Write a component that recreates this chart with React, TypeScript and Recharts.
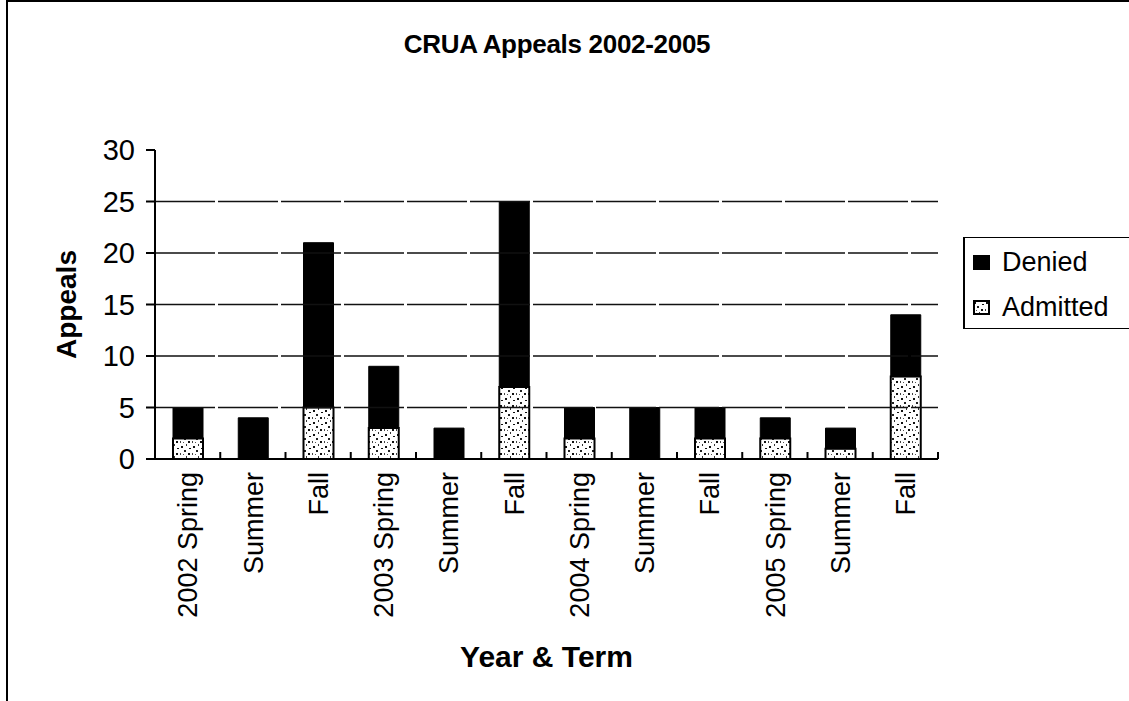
import React from 'react';
import { BarChart, Bar, XAxis, YAxis, ReferenceLine, Legend } from 'recharts';

const terms = [
  '2002 Spring', 'Summer', 'Fall',
  '2003 Spring', 'Summer', 'Fall',
  '2004 Spring', 'Summer', 'Fall',
  '2005 Spring', 'Summer', 'Fall',
];
const admitted = [2, 0, 5, 3, 0, 7, 2, 0, 2, 2, 1, 8];
const denied = [3, 4, 16, 6, 3, 18, 3, 5, 3, 2, 2, 6];
const yTicks = [0, 5, 10, 15, 20, 25, 30];
const gridValues = [5, 10, 15, 20, 25];
const dividerTicks = terms.map((_, i) => i + 1);

const data = terms.map((term, i) => ({
  key: `${term}-${i}`,
  term,
  pos: i + 0.5,
  Admitted: admitted[i],
  Denied: denied[i],
}));

const FONT = '"Liberation Sans", Arial, Helvetica, sans-serif';

// rotated category label
const CategoryTick = (props: any) => {
  const { x, y, payload } = props;
  const label = terms[payload.index] ?? payload.value;
  return (
    <text
      transform={`translate(${x},${y + 13}) rotate(-90)`}
      textAnchor="end"
      dy="0.36em"
      fontSize={27}
      fontFamily={FONT}
      fill="#000"
    >
      {label}
    </text>
  );
};

// short upward mark at each category boundary
const DividerTick = (props: any) => {
  const { x, y } = props;
  return <line x1={x} x2={x} y1={y} y2={y - 7} stroke="#000" strokeWidth={2} />;
};

const Marker = ({ fill }: { fill: string }) => (
  <svg width={17} height={15} style={{ marginRight: 12, flexShrink: 0 }}>
    <rect x={1} y={1} width={15} height={13} fill={fill} stroke="#000" strokeWidth={2} />
  </svg>
);

const LegendBox = () => (
  <div
    style={{
      width: '100%',
      height: '100%',
      boxSizing: 'border-box',
      borderLeft: '2px solid #000',
      borderTop: '1px solid #000',
      borderBottom: '1px solid #000',
      paddingLeft: 8,
      fontFamily: FONT,
      fontSize: 27,
      color: '#000',
    }}
  >
    <div style={{ display: 'flex', alignItems: 'center', height: 31, marginTop: 9 }}>
      <Marker fill="#000" />
      <span>Denied</span>
    </div>
    <div style={{ display: 'flex', alignItems: 'center', height: 31, marginTop: 14 }}>
      <Marker fill="url(#speckle)" />
      <span>Admitted</span>
    </div>
  </div>
);

export default function App() {
  return (
    <div
      style={{
        position: 'fixed',
        left: 0,
        top: 0,
        width: 1129,
        height: 701,
        overflow: 'hidden',
        background: '#fff',
        fontFamily: FONT,
      }}
    >
      <div
        style={{
          position: 'absolute',
          left: 6,
          top: 0,
          width: 1200,
          height: 800,
          borderLeft: '2px solid #000',
          borderTop: '2px solid #000',
        }}
      />
      <div
        style={{
          position: 'absolute',
          left: 0,
          top: 31,
          width: 1114,
          textAlign: 'center',
          fontSize: 26,
          lineHeight: '26px',
          fontWeight: 'bold',
          letterSpacing: -0.3,
          color: '#000',
        }}
      >
        CRUA Appeals 2002-2005
      </div>
      <div style={{ position: 'absolute', left: 0, top: 0 }}>
        <BarChart
          width={1129}
          height={701}
          data={data}
          margin={{ top: 150, right: 191, bottom: 32, left: 0 }}
          barSize={30}
        >
          <defs>
            <pattern id="speckle" width={12} height={12} patternUnits="userSpaceOnUse">
              <rect width={12} height={12} fill="#fff" />
              <rect x={1} y={2} width={2} height={2} fill="#111" />
              <rect x={6} y={0} width={1} height={2} fill="#333" />
              <rect x={9} y={4} width={2} height={1} fill="#111" />
              <rect x={4} y={6} width={2} height={2} fill="#222" />
              <rect x={0} y={9} width={1} height={2} fill="#444" />
              <rect x={8} y={9} width={2} height={2} fill="#111" />
              <rect x={3} y={10} width={1} height={1} fill="#555" />
            </pattern>
          </defs>
          {gridValues.map((v) => (
            <ReferenceLine key={v} y={v} stroke="#111" strokeWidth={1.5} strokeDasharray="60 3" />
          ))}
          {/* boundary marks between categories, drawn on a hidden numeric axis */}
          <XAxis
            xAxisId="div"
            dataKey="pos"
            type="number"
            domain={[0, terms.length]}
            ticks={dividerTicks}
            interval={0}
            height={1}
            tickSize={0}
            tickMargin={0}
            tickLine={false}
            axisLine={false}
            tick={<DividerTick />}
            allowDataOverflow
            orientation="bottom"
            mirror
          />
          <XAxis
            dataKey="key"
            height={210}
            interval={0}
            tickLine={false}
            tickSize={0}
            tickMargin={0}
            axisLine={{ stroke: '#000', strokeWidth: 2 }}
            tick={<CategoryTick />}
            label={{
              value: 'Year & Term',
              position: 'insideBottom',
              offset: 2,
              style: { fontSize: 30, fontWeight: 'bold', fill: '#000', fontFamily: FONT },
            }}
          />
          <YAxis
            width={155}
            domain={[0, 30]}
            ticks={yTicks}
            interval={0}
            tickSize={9}
            tickMargin={11}
            axisLine={{ stroke: '#000', strokeWidth: 2 }}
            tickLine={{ stroke: '#000', strokeWidth: 2 }}
            tick={{ fontSize: 29, fill: '#000', fontFamily: FONT }}
            label={{
              value: 'Appeals',
              angle: -90,
              position: 'center',
              dx: -11,
              style: { fontSize: 28, fontWeight: 'bold', fill: '#000', fontFamily: FONT },
            }}
          />
          <Legend
            layout="vertical"
            align="center"
            verticalAlign="middle"
            content={<LegendBox />}
            wrapperStyle={{ left: 963, top: 237, width: 170, height: 92 }}
          />
          <Bar
            dataKey="Admitted"
            stackId="a"
            fill="url(#speckle)"
            stroke="#000"
            strokeWidth={2}
            isAnimationActive={false}
          />
          <Bar
            dataKey="Denied"
            stackId="a"
            fill="#000"
            stroke="#000"
            strokeWidth={1}
            isAnimationActive={false}
          />
        </BarChart>
      </div>
    </div>
  );
}
